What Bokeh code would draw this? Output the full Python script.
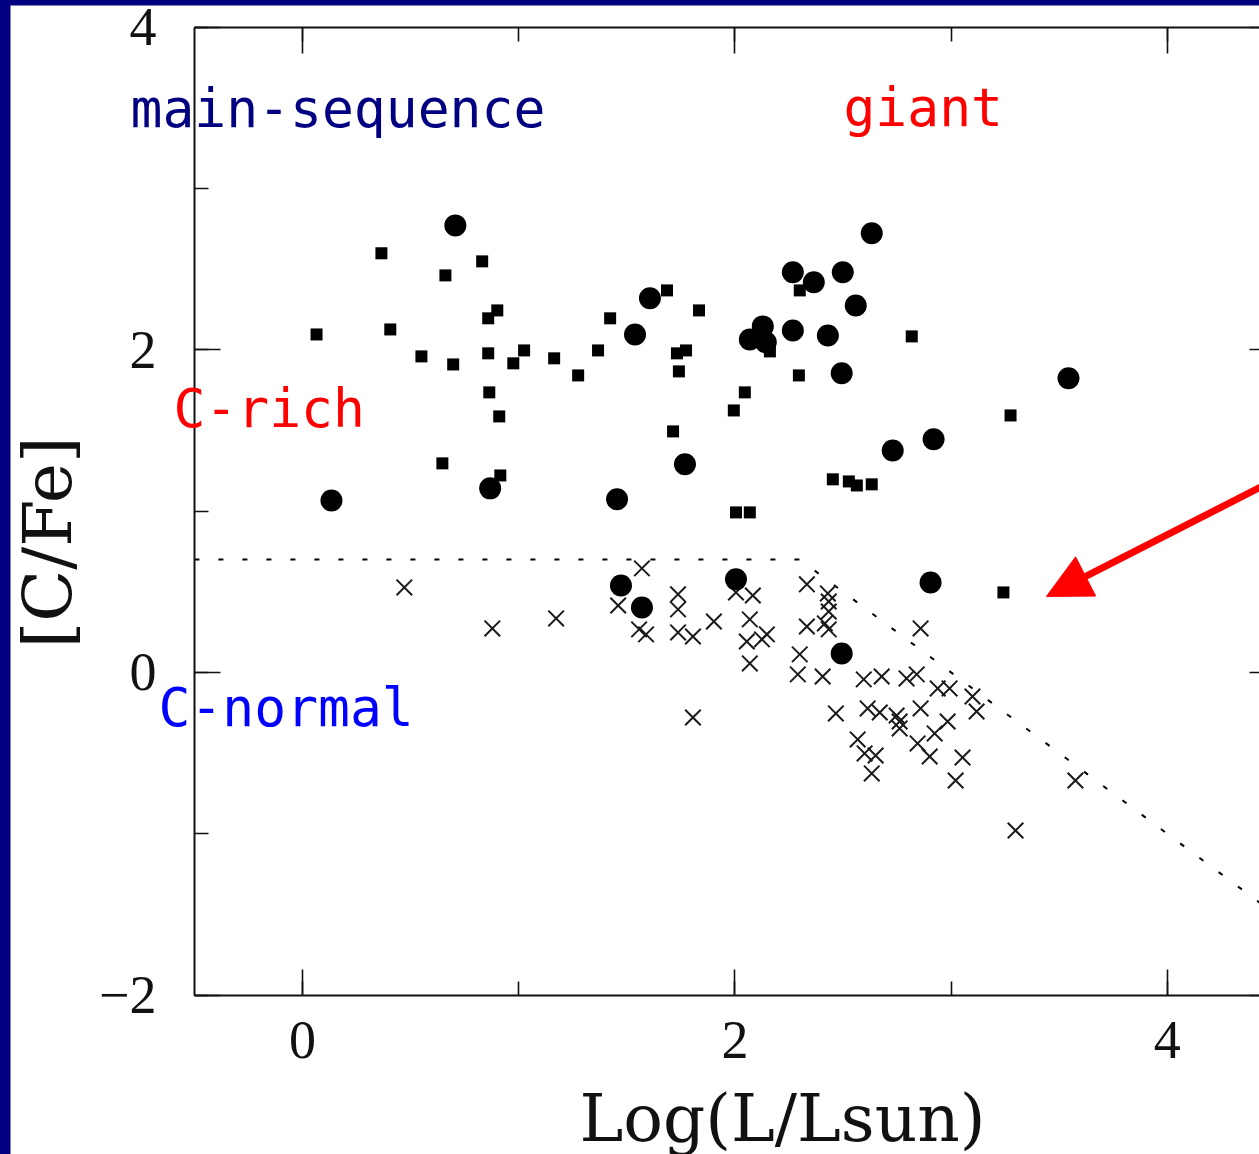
from bokeh.plotting import figure
from bokeh.models import Range1d, LinearAxis, SingleIntervalTicker, Label, Arrow, NormalHead
from bokeh.layouts import column
from bokeh.embed import file_html
from bokeh.resources import INLINE
import math

# ---- data: Log(L/Lsun) and [C/Fe] ----
# large filled circles
circ_x = [0.134, 0.707, 0.868, 1.455, 1.538, 1.607, 1.769, 1.473, 1.570, 2.005,
          2.069, 2.129, 2.143, 2.268, 2.365, 2.499, 2.633, 2.559, 2.268, 2.430,
          2.494, 2.730, 2.919, 3.543, 2.905, 2.494]
circ_y = [1.066, 2.771, 1.141, 1.073, 2.095, 2.319, 1.290, 0.539, 0.403, 0.577,
          2.064, 2.145, 2.046, 2.480, 2.418, 2.480, 2.722, 2.275, 2.120, 2.089,
          1.854, 1.376, 1.445, 1.823, 0.558, 0.118]

# small filled squares
sq_x = [0.365, 0.831, 0.661, 0.901, 0.859, 0.065, 0.406, 1.423, 0.550, 0.697,
        0.859, 1.025, 0.975, 1.164, 1.367, 1.275, 0.864, 0.910, 0.647, 0.915,
        1.686, 1.834, 1.732, 1.774, 1.741, 1.714, 2.046, 1.995, 2.005, 2.069,
        2.300, 2.296, 2.162, 2.818, 2.453, 2.527, 2.564, 2.633, 3.275, 3.242]
sq_y = [2.598, 2.548, 2.461, 2.244, 2.195, 2.095, 2.126, 2.195, 1.959, 1.909,
        1.978, 1.996, 1.916, 1.947, 1.996, 1.841, 1.736, 1.587, 1.296, 1.221,
        2.368, 2.244, 1.978, 1.996, 1.866, 1.494, 1.736, 1.624, 0.992, 0.992,
        2.368, 1.841, 1.990, 2.083, 1.197, 1.184, 1.159, 1.166, 1.593, 0.496]

# crosses
cross_x = [0.471, 0.878, 1.173, 1.570, 1.460, 1.557, 1.589, 1.737, 1.737, 1.737,
           1.806, 1.903, 1.806, 2.005, 2.083, 2.069, 2.055, 2.148, 2.125, 2.069,
           2.333, 2.430, 2.434, 2.434, 2.333, 2.416, 2.434, 2.300, 2.291, 2.406,
           2.596, 2.679, 2.794, 2.841, 2.938, 2.993, 3.099, 3.118, 2.467, 2.614,
           2.670, 2.748, 2.762, 2.762, 2.859, 2.984, 2.924, 2.845, 2.901, 3.053,
           3.021, 2.568, 2.600, 2.651, 2.633, 2.859, 3.575, 3.298]
cross_y = [0.527, 0.273, 0.335, 0.645, 0.415, 0.267, 0.236, 0.484, 0.391, 0.248,
           0.223, 0.316, -0.279, 0.496, 0.477, 0.329, 0.192, 0.236, 0.205, 0.056,
           0.546, 0.490, 0.440, 0.378, 0.285, 0.304, 0.267, 0.112, -0.012, -0.025,
           -0.043, -0.025, -0.037, -0.012, -0.099, -0.099, -0.149, -0.242, -0.254, -0.223,
           -0.248, -0.267, -0.304, -0.347, -0.223, -0.304, -0.378, -0.440, -0.521, -0.527,
           -0.670, -0.415, -0.502, -0.515, -0.626, 0.273, -0.670, -0.980]

# C-rich / C-normal boundary
bound_x = [-0.5, 2.3, 4.5]
bound_y = [0.7, 0.7, -1.5]

x_axis_span = (-0.5, 4.5)
y_axis_span = (-2, 4)

p = figure(width=1249, height=1149,
           x_range=Range1d(-1.3506, 4.4265), y_range=Range1d(-2.988, 4.134),
           output_backend="svg", toolbar_location=None,
           x_axis_location=None, y_axis_location=None, min_border=0,
           outline_line_color=None, background_fill_color="white", border_fill_color="white")
p.grid.visible = False
p.margin = (5, 0, 0, 10)

TICK_FONT = "Liberation Serif"


def make_axis(loc, bounds, labels, standoff=0):
    ax = LinearAxis(ticker=SingleIntervalTicker(interval=2, num_minor_ticks=2),
                    fixed_location=loc, bounds=bounds)
    ax.axis_line_color = "#111111"
    ax.axis_line_width = 2
    ax.major_tick_in = 26
    ax.major_tick_out = 0
    ax.minor_tick_in = 14
    ax.minor_tick_out = 0
    ax.major_tick_line_color = "#111111"
    ax.minor_tick_line_color = "#111111"
    ax.major_tick_line_width = 1.6
    ax.minor_tick_line_width = 1.6
    if labels:
        ax.major_label_text_font = TICK_FONT
        ax.major_label_text_font_size = "54px"
        ax.major_label_text_color = "#111111"
        ax.major_label_standoff = standoff
        ax.major_label_overrides = {-2: "\u22122"}
    else:
        ax.major_label_overrides = {v: "" for v in range(-4, 8)}
        ax.major_label_standoff = 0
    return ax


left = make_axis(x_axis_span[0], y_axis_span, True, 38)
bottom = make_axis(y_axis_span[0], x_axis_span, True, 27)
top = make_axis(y_axis_span[1], x_axis_span, False)
right = make_axis(x_axis_span[1], y_axis_span, False)
right.axis_line_alpha = 0

p.add_layout(left, "left")
p.add_layout(bottom, "below")
p.add_layout(top, "above")
p.add_layout(right, "right")

# boundary line
p.line(bound_x, bound_y, line_color="black", line_width=2, line_dash="5 19")

# points
p.scatter(cross_x, cross_y, marker="x", size=22, line_color="#1a1a1a", line_width=2)
p.scatter(sq_x, sq_y, marker="square", size=12, fill_color="black", line_color=None)
p.scatter(circ_x, circ_y, marker="circle", size=22, fill_color="black", line_color=None)

# annotations
MONO = "DejaVu Sans Mono"
for txt, x, y, col in [("main-sequence", -0.7956, 3.496, "#000080"),
                       ("giant", 2.502, 3.502, "#ff0000"),
                       ("C-rich", -0.597, 1.636, "#ff0000"),
                       ("C-normal", -0.666, -0.217, "#0000ff")]:
    p.add_layout(Label(x=x, y=y, text=txt, text_font=MONO, text_font_size="53px",
                       text_color=col, text_align="left", text_baseline="alphabetic"))

# axis titles
p.add_layout(Label(x=2.220, y=-2.764, text="Log(L/Lsun)", text_font="DejaVu Serif",
                   text_font_size="66px", text_color="#111111",
                   text_align="center", text_baseline="alphabetic"))
p.add_layout(Label(x=-1.179, y=0.806, text="[C/Fe]", text_font="DejaVu Serif",
                   text_font_size="68px", text_color="#111111", angle=math.pi / 2,
                   text_align="center", text_baseline="middle"))

# red arrow
p.add_layout(Arrow(end=NormalHead(size=44, fill_color="#ff0000", line_color="#ff0000"),
                   x_start=4.8, y_start=1.401, x_end=3.441, y_end=0.471,
                   line_color="#ff0000", line_width=7))

layout = column(p, styles={"background-color": "#000080"})

with open("out.html", "w") as f:
    f.write(file_html(layout, INLINE))
